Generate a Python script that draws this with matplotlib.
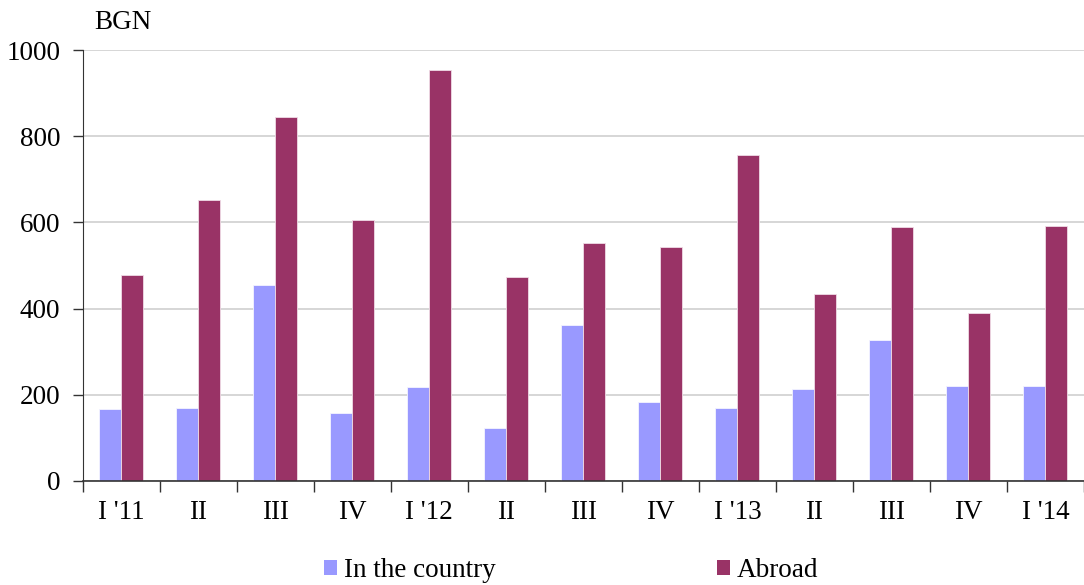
import matplotlib
matplotlib.use("Agg")
from matplotlib import pyplot as plt
from matplotlib.patches import Patch
import numpy as np

# Quarterly values, BGN
quarters = ["I '11", "II", "III", "IV", "I '12", "II", "III", "IV",
            "I '13", "II", "III", "IV", "I '14"]
in_country = [166, 169, 455, 157, 217, 124, 363, 184, 169, 213, 327, 220, 220]
abroad = [478, 653, 844, 606, 954, 473, 553, 544, 756, 434, 589, 389, 592]

plt.rcParams['font.family'] = ['Liberation Serif', 'DejaVu Serif']
plt.rcParams['font.size'] = 19.5

fig = plt.figure(figsize=(10.84, 5.85), dpi=100)
ax = fig.add_axes([0.0763, 0.1778, 0.9237, 0.7367])

x = np.arange(len(quarters))
w = 1 / 3.5
ax.bar(x - w / 2, in_country, w, color='#9999FF', edgecolor='#f4f4ff', linewidth=0.6)
ax.bar(x + w / 2, abroad, w, color='#993366', edgecolor='#f0dce6', linewidth=0.6)

ax.set_xlim(-0.5, len(quarters) - 0.5)
ax.set_ylim(0, 1000)
ax.set_yticks(range(0, 1001, 200))
ax.yaxis.grid(True, color='#d0d0d0', linewidth=1.2)
ax.set_axisbelow(True)

# boundaries carry the tick marks, centres carry the labels
ax.set_xticks(np.arange(-0.5, len(quarters), 1))
ax.set_xticklabels([])
ax.set_xticks(x, minor=True)
ax.set_xticklabels(quarters, minor=True)
ax.tick_params(axis='x', which='major', direction='out', length=8, width=1, color='#333333')
ax.tick_params(axis='x', which='minor', length=0, pad=14)
ax.tick_params(axis='y', direction='out', length=7, width=1, color='#333333', pad=9)

for s in ['top', 'right']:
    ax.spines[s].set_visible(False)
ax.spines['left'].set_color('#333333')
ax.spines['bottom'].set_color('#333333')
ax.spines['bottom'].set_linewidth(1.2)

fig.text(0.087, 0.962, 'BGN', va='center')

handles = [Patch(facecolor='#9999FF', label='In the country'),
           Patch(facecolor='#993366', label='Abroad')]
fig.legend(handles=handles, loc='center', bbox_to_anchor=(0.527, 0.025), ncol=2,
           frameon=False, handlelength=0.45, handleheight=0.45, handletextpad=0.26,
           columnspacing=8.2)

fig.savefig('out.png', dpi=100)
